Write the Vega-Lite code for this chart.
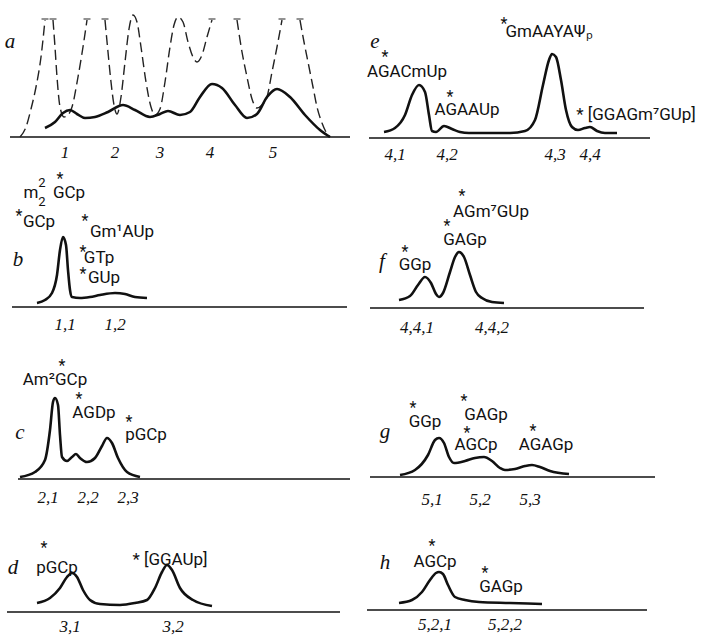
{
"$schema": "https://vega.github.io/schema/vega-lite/v6.json",
"padding": 0,
"background": "white",
"columns": 2,
"spacing": 0,
"bounds": "flush",
"config": {"view": {"stroke": null}, "text": {"font": "Roboto", "fontSize": 17, "align": "center", "baseline": "middle", "color": "#111"}},
"datasets": {"all": [
{"p":"a","k":"base","x":10,"x2":350,"y":0},
{"p":"a","k":"line","s":"a1","x":45,"y":9},{"p":"a","k":"line","s":"a1","x":55,"y":15},{"p":"a","k":"line","s":"a1","x":63,"y":24},{"p":"a","k":"line","s":"a1","x":70,"y":27},{"p":"a","k":"line","s":"a1","x":77,"y":23},{"p":"a","k":"line","s":"a1","x":85,"y":19},{"p":"a","k":"line","s":"a1","x":95,"y":20},{"p":"a","k":"line","s":"a1","x":108,"y":25},{"p":"a","k":"line","s":"a1","x":123,"y":32},{"p":"a","k":"line","s":"a1","x":135,"y":27},{"p":"a","k":"line","s":"a1","x":150,"y":20},{"p":"a","k":"line","s":"a1","x":160,"y":23},{"p":"a","k":"line","s":"a1","x":168,"y":26},{"p":"a","k":"line","s":"a1","x":180,"y":22},{"p":"a","k":"line","s":"a1","x":190,"y":25},{"p":"a","k":"line","s":"a1","x":200,"y":40},{"p":"a","k":"line","s":"a1","x":212,"y":53},{"p":"a","k":"line","s":"a1","x":222,"y":49},{"p":"a","k":"line","s":"a1","x":235,"y":32},{"p":"a","k":"line","s":"a1","x":247,"y":19},{"p":"a","k":"line","s":"a1","x":257,"y":23},{"p":"a","k":"line","s":"a1","x":267,"y":40},{"p":"a","k":"line","s":"a1","x":277,"y":48},{"p":"a","k":"line","s":"a1","x":290,"y":40},{"p":"a","k":"line","s":"a1","x":305,"y":22},{"p":"a","k":"line","s":"a1","x":320,"y":7},{"p":"a","k":"line","s":"a1","x":330,"y":0},
{"p":"a","k":"dash","s":"a2","x":20,"y":0},{"p":"a","k":"dash","s":"a2","x":26,"y":10},{"p":"a","k":"dash","s":"a2","x":31,"y":28},{"p":"a","k":"dash","s":"a2","x":36,"y":50},{"p":"a","k":"dash","s":"a2","x":41,"y":80},{"p":"a","k":"dash","s":"a2","x":45,"y":117},
{"p":"a","k":"dash","s":"a3","x":53,"y":117},{"p":"a","k":"dash","s":"a3","x":55,"y":90},{"p":"a","k":"dash","s":"a3","x":57,"y":60},{"p":"a","k":"dash","s":"a3","x":60,"y":30},{"p":"a","k":"dash","s":"a3","x":64,"y":20},{"p":"a","k":"dash","s":"a3","x":68,"y":22},{"p":"a","k":"dash","s":"a3","x":72,"y":30},{"p":"a","k":"dash","s":"a3","x":78,"y":60},{"p":"a","k":"dash","s":"a3","x":83,"y":90},{"p":"a","k":"dash","s":"a3","x":87,"y":117},
{"p":"a","k":"dash","s":"a4","x":105,"y":117},{"p":"a","k":"dash","s":"a4","x":108,"y":85},{"p":"a","k":"dash","s":"a4","x":111,"y":55},{"p":"a","k":"dash","s":"a4","x":114,"y":32},{"p":"a","k":"dash","s":"a4","x":117,"y":23},{"p":"a","k":"dash","s":"a4","x":121,"y":40},{"p":"a","k":"dash","s":"a4","x":125,"y":75},{"p":"a","k":"dash","s":"a4","x":129,"y":108},{"p":"a","k":"dash","s":"a4","x":133,"y":122},{"p":"a","k":"dash","s":"a4","x":137,"y":115},{"p":"a","k":"dash","s":"a4","x":141,"y":90},{"p":"a","k":"dash","s":"a4","x":146,"y":55},{"p":"a","k":"dash","s":"a4","x":151,"y":30},{"p":"a","k":"dash","s":"a4","x":155,"y":22},{"p":"a","k":"dash","s":"a4","x":160,"y":28},{"p":"a","k":"dash","s":"a4","x":165,"y":55},{"p":"a","k":"dash","s":"a4","x":170,"y":90},{"p":"a","k":"dash","s":"a4","x":174,"y":112},{"p":"a","k":"dash","s":"a4","x":178,"y":120},{"p":"a","k":"dash","s":"a4","x":183,"y":115},{"p":"a","k":"dash","s":"a4","x":188,"y":95},{"p":"a","k":"dash","s":"a4","x":193,"y":80},{"p":"a","k":"dash","s":"a4","x":197,"y":75},{"p":"a","k":"dash","s":"a4","x":202,"y":82},{"p":"a","k":"dash","s":"a4","x":207,"y":100},{"p":"a","k":"dash","s":"a4","x":212,"y":117},
{"p":"a","k":"dash","s":"a5","x":237,"y":117},{"p":"a","k":"dash","s":"a5","x":242,"y":85},{"p":"a","k":"dash","s":"a5","x":247,"y":60},{"p":"a","k":"dash","s":"a5","x":252,"y":38},{"p":"a","k":"dash","s":"a5","x":257,"y":29},{"p":"a","k":"dash","s":"a5","x":262,"y":32},{"p":"a","k":"dash","s":"a5","x":267,"y":40},{"p":"a","k":"dash","s":"a5","x":272,"y":65},{"p":"a","k":"dash","s":"a5","x":277,"y":90},{"p":"a","k":"dash","s":"a5","x":282,"y":117},
{"p":"a","k":"dash","s":"a6","x":300,"y":117},{"p":"a","k":"dash","s":"a6","x":304,"y":95},{"p":"a","k":"dash","s":"a6","x":308,"y":75},{"p":"a","k":"dash","s":"a6","x":313,"y":50},{"p":"a","k":"dash","s":"a6","x":317,"y":30},{"p":"a","k":"dash","s":"a6","x":322,"y":14},{"p":"a","k":"dash","s":"a6","x":326,"y":5},{"p":"a","k":"dash","s":"a6","x":330,"y":0},
{"p":"a","k":"top","x":45,"y":118},{"p":"a","k":"top","x":53,"y":118},{"p":"a","k":"top","x":87,"y":118},{"p":"a","k":"top","x":105,"y":118},{"p":"a","k":"top","x":212,"y":118},{"p":"a","k":"top","x":237,"y":118},{"p":"a","k":"top","x":282,"y":118},{"p":"a","k":"top","x":300,"y":118},
{"p":"a","k":"num","t":"1","x":65,"y":-16},{"p":"a","k":"num","t":"2","x":115,"y":-16},{"p":"a","k":"num","t":"3","x":160,"y":-16},{"p":"a","k":"num","t":"4","x":210,"y":-16},{"p":"a","k":"num","t":"5","x":273,"y":-16},
{"p":"a","k":"letter","t":"a","x":10,"y":95},

{"p":"e","k":"base","x":17,"x2":298,"y":-1},
{"p":"e","k":"line","s":"e1","x":32,"y":5},{"p":"e","k":"line","s":"e1","x":43,"y":9},{"p":"e","k":"line","s":"e1","x":53,"y":22},{"p":"e","k":"line","s":"e1","x":60,"y":42},{"p":"e","k":"line","s":"e1","x":67,"y":52},{"p":"e","k":"line","s":"e1","x":73,"y":45},{"p":"e","k":"line","s":"e1","x":77,"y":22},{"p":"e","k":"line","s":"e1","x":80,"y":6},{"p":"e","k":"line","s":"e1","x":84,"y":5},{"p":"e","k":"line","s":"e1","x":92,"y":11},{"p":"e","k":"line","s":"e1","x":100,"y":8},{"p":"e","k":"line","s":"e1","x":108,"y":5},{"p":"e","k":"line","s":"e1","x":117,"y":4},{"p":"e","k":"line","s":"e1","x":138,"y":4},{"p":"e","k":"line","s":"e1","x":158,"y":4},{"p":"e","k":"line","s":"e1","x":173,"y":6},{"p":"e","k":"line","s":"e1","x":183,"y":17},{"p":"e","k":"line","s":"e1","x":191,"y":52},{"p":"e","k":"line","s":"e1","x":197,"y":77},{"p":"e","k":"line","s":"e1","x":200,"y":83},{"p":"e","k":"line","s":"e1","x":204,"y":80},{"p":"e","k":"line","s":"e1","x":209,"y":57},{"p":"e","k":"line","s":"e1","x":214,"y":27},{"p":"e","k":"line","s":"e1","x":220,"y":10},{"p":"e","k":"line","s":"e1","x":226,"y":7},{"p":"e","k":"line","s":"e1","x":233,"y":9},{"p":"e","k":"line","s":"e1","x":238,"y":10},{"p":"e","k":"line","s":"e1","x":245,"y":6},{"p":"e","k":"line","s":"e1","x":253,"y":4},{"p":"e","k":"line","s":"e1","x":265,"y":4},
{"p":"e","k":"num","t":"4,1","x":43,"y":-18},{"p":"e","k":"num","t":"4,2","x":95,"y":-18},{"p":"e","k":"num","t":"4,3","x":203,"y":-18},{"p":"e","k":"num","t":"4,4","x":238,"y":-18},
{"p":"e","k":"letter","t":"e","x":23,"y":95},
{"p":"e","k":"chem","t":"AGACmUp","x":55,"y":65},{"p":"e","k":"star","t":"*","x":33,"y":80},
{"p":"e","k":"chem","t":"AGAAUp","x":115,"y":27},{"p":"e","k":"star","t":"*","x":98,"y":40},
{"p":"e","k":"chem","t":"GmAAYAΨₚ","x":197,"y":105},{"p":"e","k":"star","t":"*","x":152,"y":113},
{"p":"e","k":"chem","t":"* [GGAGm⁷GUp]","x":284,"y":22},

{"p":"b","k":"base","x":12,"x2":347,"y":0},
{"p":"b","k":"line","s":"b1","x":37,"y":4},{"p":"b","k":"line","s":"b1","x":45,"y":7},{"p":"b","k":"line","s":"b1","x":52,"y":14},{"p":"b","k":"line","s":"b1","x":57,"y":32},{"p":"b","k":"line","s":"b1","x":60,"y":57},{"p":"b","k":"line","s":"b1","x":63,"y":70},{"p":"b","k":"line","s":"b1","x":66,"y":62},{"p":"b","k":"line","s":"b1","x":68,"y":37},{"p":"b","k":"line","s":"b1","x":70,"y":17},{"p":"b","k":"line","s":"b1","x":72,"y":10},{"p":"b","k":"line","s":"b1","x":80,"y":9},{"p":"b","k":"line","s":"b1","x":90,"y":10},{"p":"b","k":"line","s":"b1","x":100,"y":12},{"p":"b","k":"line","s":"b1","x":115,"y":14},{"p":"b","k":"line","s":"b1","x":125,"y":13},{"p":"b","k":"line","s":"b1","x":135,"y":10},{"p":"b","k":"line","s":"b1","x":147,"y":9},
{"p":"b","k":"num","t":"1,1","x":65,"y":-18},{"p":"b","k":"num","t":"1,2","x":115,"y":-18},
{"p":"b","k":"letter","t":"b","x":18,"y":47},
{"p":"b","k":"chem","t":"m","x":31,"y":114},{"p":"b","k":"sup","t":"2","x":42,"y":124},{"p":"b","k":"sup","t":"2","x":42,"y":105},{"p":"b","k":"chem","t":"GCp","x":69,"y":114},{"p":"b","k":"star","t":"*","x":60,"y":128},
{"p":"b","k":"chem","t":"GCp","x":39,"y":85},{"p":"b","k":"star","t":"*","x":19,"y":91},
{"p":"b","k":"chem","t":"Gm¹AUp","x":122,"y":75},{"p":"b","k":"star","t":"*","x":85,"y":86},
{"p":"b","k":"chem","t":"GTp","x":99,"y":49},{"p":"b","k":"star","t":"*","x":83,"y":55},
{"p":"b","k":"chem","t":"GUp","x":104,"y":29},{"p":"b","k":"star","t":"*","x":83,"y":33},

{"p":"f","k":"base","x":18,"x2":292,"y":-1},
{"p":"f","k":"line","s":"f1","x":47,"y":7},{"p":"f","k":"line","s":"f1","x":58,"y":11},{"p":"f","k":"line","s":"f1","x":66,"y":22},{"p":"f","k":"line","s":"f1","x":73,"y":30},{"p":"f","k":"line","s":"f1","x":79,"y":24},{"p":"f","k":"line","s":"f1","x":84,"y":13},{"p":"f","k":"line","s":"f1","x":87,"y":10},{"p":"f","k":"line","s":"f1","x":91,"y":14},{"p":"f","k":"line","s":"f1","x":98,"y":35},{"p":"f","k":"line","s":"f1","x":103,"y":50},{"p":"f","k":"line","s":"f1","x":107,"y":55},{"p":"f","k":"line","s":"f1","x":112,"y":50},{"p":"f","k":"line","s":"f1","x":118,"y":32},{"p":"f","k":"line","s":"f1","x":124,"y":15},{"p":"f","k":"line","s":"f1","x":130,"y":9},{"p":"f","k":"line","s":"f1","x":140,"y":5},{"p":"f","k":"line","s":"f1","x":152,"y":4},
{"p":"f","k":"num","t":"4,4,1","x":65,"y":-21},{"p":"f","k":"num","t":"4,4,2","x":140,"y":-21},
{"p":"f","k":"letter","t":"f","x":30,"y":45},
{"p":"f","k":"chem","t":"GGp","x":63,"y":42},{"p":"f","k":"star","t":"*","x":53,"y":55},
{"p":"f","k":"chem","t":"GAGp","x":113,"y":67},{"p":"f","k":"star","t":"*","x":95,"y":81},
{"p":"f","k":"chem","t":"AGm⁷GUp","x":139,"y":95},{"p":"f","k":"star","t":"*","x":110,"y":111},

{"p":"c","k":"base","x":18,"x2":350,"y":-1},
{"p":"c","k":"line","s":"c1","x":20,"y":1},{"p":"c","k":"line","s":"c1","x":35,"y":6},{"p":"c","k":"line","s":"c1","x":45,"y":18},{"p":"c","k":"line","s":"c1","x":50,"y":48},{"p":"c","k":"line","s":"c1","x":53,"y":76},{"p":"c","k":"line","s":"c1","x":55,"y":80},{"p":"c","k":"line","s":"c1","x":58,"y":73},{"p":"c","k":"line","s":"c1","x":60,"y":43},{"p":"c","k":"line","s":"c1","x":62,"y":21},{"p":"c","k":"line","s":"c1","x":67,"y":17},{"p":"c","k":"line","s":"c1","x":72,"y":21},{"p":"c","k":"line","s":"c1","x":76,"y":24},{"p":"c","k":"line","s":"c1","x":80,"y":20},{"p":"c","k":"line","s":"c1","x":87,"y":16},{"p":"c","k":"line","s":"c1","x":95,"y":20},{"p":"c","k":"line","s":"c1","x":102,"y":32},{"p":"c","k":"line","s":"c1","x":107,"y":40},{"p":"c","k":"line","s":"c1","x":112,"y":35},{"p":"c","k":"line","s":"c1","x":118,"y":20},{"p":"c","k":"line","s":"c1","x":127,"y":6},{"p":"c","k":"line","s":"c1","x":140,"y":1},
{"p":"c","k":"num","t":"2,1","x":48,"y":-20},{"p":"c","k":"num","t":"2,2","x":88,"y":-20},{"p":"c","k":"num","t":"2,3","x":128,"y":-20},
{"p":"c","k":"letter","t":"c","x":20,"y":45},
{"p":"c","k":"chem","t":"Am²GCp","x":55,"y":98},{"p":"c","k":"star","t":"*","x":62,"y":112},
{"p":"c","k":"chem","t":"AGDp","x":94,"y":65},{"p":"c","k":"star","t":"*","x":79,"y":79},
{"p":"c","k":"chem","t":"pGCp","x":146,"y":43},{"p":"c","k":"star","t":"*","x":129,"y":56},

{"p":"g","k":"base","x":18,"x2":303,"y":1},
{"p":"g","k":"line","s":"g1","x":48,"y":3},{"p":"g","k":"line","s":"g1","x":63,"y":8},{"p":"g","k":"line","s":"g1","x":76,"y":23},{"p":"g","k":"line","s":"g1","x":83,"y":38},{"p":"g","k":"line","s":"g1","x":87,"y":40},{"p":"g","k":"line","s":"g1","x":92,"y":35},{"p":"g","k":"line","s":"g1","x":97,"y":21},{"p":"g","k":"line","s":"g1","x":102,"y":15},{"p":"g","k":"line","s":"g1","x":113,"y":17},{"p":"g","k":"line","s":"g1","x":123,"y":20},{"p":"g","k":"line","s":"g1","x":132,"y":21},{"p":"g","k":"line","s":"g1","x":140,"y":17},{"p":"g","k":"line","s":"g1","x":148,"y":10},{"p":"g","k":"line","s":"g1","x":153,"y":8},{"p":"g","k":"line","s":"g1","x":163,"y":9},{"p":"g","k":"line","s":"g1","x":173,"y":12},{"p":"g","k":"line","s":"g1","x":180,"y":13},{"p":"g","k":"line","s":"g1","x":188,"y":11},{"p":"g","k":"line","s":"g1","x":198,"y":7},{"p":"g","k":"line","s":"g1","x":217,"y":4},
{"p":"g","k":"num","t":"5,1","x":80,"y":-22},{"p":"g","k":"num","t":"5,2","x":128,"y":-22},{"p":"g","k":"num","t":"5,3","x":178,"y":-22},
{"p":"g","k":"letter","t":"g","x":33,"y":46},
{"p":"g","k":"chem","t":"GGp","x":73,"y":56},{"p":"g","k":"star","t":"*","x":61,"y":70},
{"p":"g","k":"chem","t":"GAGp","x":134,"y":63},{"p":"g","k":"star","t":"*","x":112,"y":77},
{"p":"g","k":"chem","t":"AGCp","x":124,"y":33},{"p":"g","k":"star","t":"*","x":115,"y":45},
{"p":"g","k":"chem","t":"AGAGp","x":194,"y":33},{"p":"g","k":"star","t":"*","x":181,"y":47},

{"p":"d","k":"base","x":7,"x2":340,"y":-1},
{"p":"d","k":"line","s":"d1","x":37,"y":8},{"p":"d","k":"line","s":"d1","x":50,"y":13},{"p":"d","k":"line","s":"d1","x":60,"y":23},{"p":"d","k":"line","s":"d1","x":67,"y":34},{"p":"d","k":"line","s":"d1","x":72,"y":38},{"p":"d","k":"line","s":"d1","x":77,"y":34},{"p":"d","k":"line","s":"d1","x":83,"y":21},{"p":"d","k":"line","s":"d1","x":90,"y":11},{"p":"d","k":"line","s":"d1","x":100,"y":7},{"p":"d","k":"line","s":"d1","x":120,"y":6},{"p":"d","k":"line","s":"d1","x":135,"y":8},{"p":"d","k":"line","s":"d1","x":147,"y":11},{"p":"d","k":"line","s":"d1","x":155,"y":23},{"p":"d","k":"line","s":"d1","x":162,"y":39},{"p":"d","k":"line","s":"d1","x":167,"y":46},{"p":"d","k":"line","s":"d1","x":172,"y":41},{"p":"d","k":"line","s":"d1","x":180,"y":23},{"p":"d","k":"line","s":"d1","x":193,"y":11},{"p":"d","k":"line","s":"d1","x":212,"y":5},
{"p":"d","k":"num","t":"3,1","x":70,"y":-16},{"p":"d","k":"num","t":"3,2","x":173,"y":-16},
{"p":"d","k":"letter","t":"d","x":13,"y":43},
{"p":"d","k":"chem","t":"pGCp","x":57,"y":43},{"p":"d","k":"star","t":"*","x":44,"y":63},
{"p":"d","k":"chem","t":"* [GGAUp]","x":170,"y":51},

{"p":"h","k":"base","x":15,"x2":295,"y":1},
{"p":"h","k":"line","s":"h1","x":47,"y":8},{"p":"h","k":"line","s":"h1","x":60,"y":11},{"p":"h","k":"line","s":"h1","x":70,"y":19},{"p":"h","k":"line","s":"h1","x":78,"y":31},{"p":"h","k":"line","s":"h1","x":84,"y":38},{"p":"h","k":"line","s":"h1","x":87,"y":39},{"p":"h","k":"line","s":"h1","x":91,"y":37},{"p":"h","k":"line","s":"h1","x":96,"y":26},{"p":"h","k":"line","s":"h1","x":103,"y":14},{"p":"h","k":"line","s":"h1","x":113,"y":11},{"p":"h","k":"line","s":"h1","x":127,"y":9},{"p":"h","k":"line","s":"h1","x":158,"y":8},{"p":"h","k":"line","s":"h1","x":190,"y":7},
{"p":"h","k":"num","t":"5,2,1","x":83,"y":-14},{"p":"h","k":"num","t":"5,2,2","x":153,"y":-14},
{"p":"h","k":"letter","t":"h","x":33,"y":48},
{"p":"h","k":"chem","t":"AGCp","x":83,"y":49},{"p":"h","k":"star","t":"*","x":80,"y":65},
{"p":"h","k":"chem","t":"GAGp","x":149,"y":24},{"p":"h","k":"star","t":"*","x":133,"y":38}
]},
"concat": [
{"width":352,"height":165,"data":{"name":"all"},"transform":[{"filter":"datum.p==='a'"}],
 "encoding":{"x":{"field":"x","type":"quantitative","scale":{"domain":[0,352],"nice":false,"zero":false},"axis":null},"y":{"field":"y","type":"quantitative","scale":{"domain":[-28,137],"nice":false,"zero":false},"axis":null}},
 "layer":[
  {"transform":[{"filter":"datum.k==='base'"}],"mark":{"type":"rule","color":"#111","strokeWidth":1.6},"encoding":{"x2":{"field":"x2"}}},
  {"transform":[{"filter":"datum.k==='dash'"}],"mark":{"type":"line","color":"#222","strokeWidth":1.4,"strokeDash":[10,5],"interpolate":"monotone"},"encoding":{"detail":{"field":"s"}}},
  {"transform":[{"filter":"datum.k==='top'"}],"mark":{"type":"tick","orient":"horizontal","size":7,"thickness":1.4,"color":"#222"}},
  {"transform":[{"filter":"datum.k==='line'"}],"mark":{"type":"line","color":"#111","strokeWidth":2.6,"interpolate":"monotone"},"encoding":{"detail":{"field":"s"}}},
  {"transform":[{"filter":"datum.k==='num'"}],"mark":{"type":"text","font":"Liberation Serif","fontStyle":"italic","fontSize":17},"encoding":{"text":{"field":"t"}}},
  {"transform":[{"filter":"datum.k==='letter'"}],"mark":{"type":"text","font":"Liberation Serif","fontStyle":"italic","fontSize":21},"encoding":{"text":{"field":"t"}}}
 ]},
{"width":352,"height":165,"data":{"name":"all"},"transform":[{"filter":"datum.p==='e'"}],
 "encoding":{"x":{"field":"x","type":"quantitative","scale":{"domain":[0,352],"nice":false,"zero":false},"axis":null},"y":{"field":"y","type":"quantitative","scale":{"domain":[-28,137],"nice":false,"zero":false},"axis":null}},
 "layer":[
  {"transform":[{"filter":"datum.k==='base'"}],"mark":{"type":"rule","color":"#111","strokeWidth":1.6},"encoding":{"x2":{"field":"x2"}}},
  {"transform":[{"filter":"datum.k==='line'"}],"mark":{"type":"line","color":"#111","strokeWidth":2.6,"interpolate":"monotone"},"encoding":{"detail":{"field":"s"}}},
  {"transform":[{"filter":"datum.k==='chem'"}],"mark":{"type":"text"},"encoding":{"text":{"field":"t"}}},
  {"transform":[{"filter":"datum.k==='star'"}],"mark":{"type":"text","fontSize":16},"encoding":{"text":{"field":"t"}}},
  {"transform":[{"filter":"datum.k==='num'"}],"mark":{"type":"text","font":"Liberation Serif","fontStyle":"italic","fontSize":17},"encoding":{"text":{"field":"t"}}},
  {"transform":[{"filter":"datum.k==='letter'"}],"mark":{"type":"text","font":"Liberation Serif","fontStyle":"italic","fontSize":21},"encoding":{"text":{"field":"t"}}}
 ]},
{"width":352,"height":175,"data":{"name":"all"},"transform":[{"filter":"datum.p==='b'"}],
 "encoding":{"x":{"field":"x","type":"quantitative","scale":{"domain":[0,352],"nice":false,"zero":false},"axis":null},"y":{"field":"y","type":"quantitative","scale":{"domain":[-33,142],"nice":false,"zero":false},"axis":null}},
 "layer":[
  {"transform":[{"filter":"datum.k==='base'"}],"mark":{"type":"rule","color":"#111","strokeWidth":1.6},"encoding":{"x2":{"field":"x2"}}},
  {"transform":[{"filter":"datum.k==='line'"}],"mark":{"type":"line","color":"#111","strokeWidth":2.6,"interpolate":"monotone"},"encoding":{"detail":{"field":"s"}}},
  {"transform":[{"filter":"datum.k==='chem'"}],"mark":{"type":"text"},"encoding":{"text":{"field":"t"}}},
  {"transform":[{"filter":"datum.k==='sup'"}],"mark":{"type":"text","fontSize":13},"encoding":{"text":{"field":"t"}}},
  {"transform":[{"filter":"datum.k==='star'"}],"mark":{"type":"text","fontSize":16},"encoding":{"text":{"field":"t"}}},
  {"transform":[{"filter":"datum.k==='num'"}],"mark":{"type":"text","font":"Liberation Serif","fontStyle":"italic","fontSize":17},"encoding":{"text":{"field":"t"}}},
  {"transform":[{"filter":"datum.k==='letter'"}],"mark":{"type":"text","font":"Liberation Serif","fontStyle":"italic","fontSize":21},"encoding":{"text":{"field":"t"}}}
 ]},
{"width":352,"height":175,"data":{"name":"all"},"transform":[{"filter":"datum.p==='f'"}],
 "encoding":{"x":{"field":"x","type":"quantitative","scale":{"domain":[0,352],"nice":false,"zero":false},"axis":null},"y":{"field":"y","type":"quantitative","scale":{"domain":[-33,142],"nice":false,"zero":false},"axis":null}},
 "layer":[
  {"transform":[{"filter":"datum.k==='base'"}],"mark":{"type":"rule","color":"#111","strokeWidth":1.6},"encoding":{"x2":{"field":"x2"}}},
  {"transform":[{"filter":"datum.k==='line'"}],"mark":{"type":"line","color":"#111","strokeWidth":2.6,"interpolate":"monotone"},"encoding":{"detail":{"field":"s"}}},
  {"transform":[{"filter":"datum.k==='chem'"}],"mark":{"type":"text"},"encoding":{"text":{"field":"t"}}},
  {"transform":[{"filter":"datum.k==='star'"}],"mark":{"type":"text","fontSize":16},"encoding":{"text":{"field":"t"}}},
  {"transform":[{"filter":"datum.k==='num'"}],"mark":{"type":"text","font":"Liberation Serif","fontStyle":"italic","fontSize":17},"encoding":{"text":{"field":"t"}}},
  {"transform":[{"filter":"datum.k==='letter'"}],"mark":{"type":"text","font":"Liberation Serif","fontStyle":"italic","fontSize":21},"encoding":{"text":{"field":"t"}}}
 ]},
{"width":352,"height":165,"data":{"name":"all"},"transform":[{"filter":"datum.p==='c'"}],
 "encoding":{"x":{"field":"x","type":"quantitative","scale":{"domain":[0,352],"nice":false,"zero":false},"axis":null},"y":{"field":"y","type":"quantitative","scale":{"domain":[-27,138],"nice":false,"zero":false},"axis":null}},
 "layer":[
  {"transform":[{"filter":"datum.k==='base'"}],"mark":{"type":"rule","color":"#111","strokeWidth":1.6},"encoding":{"x2":{"field":"x2"}}},
  {"transform":[{"filter":"datum.k==='line'"}],"mark":{"type":"line","color":"#111","strokeWidth":2.6,"interpolate":"monotone"},"encoding":{"detail":{"field":"s"}}},
  {"transform":[{"filter":"datum.k==='chem'"}],"mark":{"type":"text"},"encoding":{"text":{"field":"t"}}},
  {"transform":[{"filter":"datum.k==='star'"}],"mark":{"type":"text","fontSize":16},"encoding":{"text":{"field":"t"}}},
  {"transform":[{"filter":"datum.k==='num'"}],"mark":{"type":"text","font":"Liberation Serif","fontStyle":"italic","fontSize":17},"encoding":{"text":{"field":"t"}}},
  {"transform":[{"filter":"datum.k==='letter'"}],"mark":{"type":"text","font":"Liberation Serif","fontStyle":"italic","fontSize":21},"encoding":{"text":{"field":"t"}}}
 ]},
{"width":352,"height":165,"data":{"name":"all"},"transform":[{"filter":"datum.p==='g'"}],
 "encoding":{"x":{"field":"x","type":"quantitative","scale":{"domain":[0,352],"nice":false,"zero":false},"axis":null},"y":{"field":"y","type":"quantitative","scale":{"domain":[-27,138],"nice":false,"zero":false},"axis":null}},
 "layer":[
  {"transform":[{"filter":"datum.k==='base'"}],"mark":{"type":"rule","color":"#111","strokeWidth":1.6},"encoding":{"x2":{"field":"x2"}}},
  {"transform":[{"filter":"datum.k==='line'"}],"mark":{"type":"line","color":"#111","strokeWidth":2.6,"interpolate":"monotone"},"encoding":{"detail":{"field":"s"}}},
  {"transform":[{"filter":"datum.k==='chem'"}],"mark":{"type":"text"},"encoding":{"text":{"field":"t"}}},
  {"transform":[{"filter":"datum.k==='star'"}],"mark":{"type":"text","fontSize":16},"encoding":{"text":{"field":"t"}}},
  {"transform":[{"filter":"datum.k==='num'"}],"mark":{"type":"text","font":"Liberation Serif","fontStyle":"italic","fontSize":17},"encoding":{"text":{"field":"t"}}},
  {"transform":[{"filter":"datum.k==='letter'"}],"mark":{"type":"text","font":"Liberation Serif","fontStyle":"italic","fontSize":21},"encoding":{"text":{"field":"t"}}}
 ]},
{"width":352,"height":130,"data":{"name":"all"},"transform":[{"filter":"datum.p==='d'"}],
 "encoding":{"x":{"field":"x","type":"quantitative","scale":{"domain":[0,352],"nice":false,"zero":false},"axis":null},"y":{"field":"y","type":"quantitative","scale":{"domain":[-24,106],"nice":false,"zero":false},"axis":null}},
 "layer":[
  {"transform":[{"filter":"datum.k==='base'"}],"mark":{"type":"rule","color":"#111","strokeWidth":1.6},"encoding":{"x2":{"field":"x2"}}},
  {"transform":[{"filter":"datum.k==='line'"}],"mark":{"type":"line","color":"#111","strokeWidth":2.6,"interpolate":"monotone"},"encoding":{"detail":{"field":"s"}}},
  {"transform":[{"filter":"datum.k==='chem'"}],"mark":{"type":"text"},"encoding":{"text":{"field":"t"}}},
  {"transform":[{"filter":"datum.k==='star'"}],"mark":{"type":"text","fontSize":16},"encoding":{"text":{"field":"t"}}},
  {"transform":[{"filter":"datum.k==='num'"}],"mark":{"type":"text","font":"Liberation Serif","fontStyle":"italic","fontSize":17},"encoding":{"text":{"field":"t"}}},
  {"transform":[{"filter":"datum.k==='letter'"}],"mark":{"type":"text","font":"Liberation Serif","fontStyle":"italic","fontSize":21},"encoding":{"text":{"field":"t"}}}
 ]},
{"width":352,"height":130,"data":{"name":"all"},"transform":[{"filter":"datum.p==='h'"}],
 "encoding":{"x":{"field":"x","type":"quantitative","scale":{"domain":[0,352],"nice":false,"zero":false},"axis":null},"y":{"field":"y","type":"quantitative","scale":{"domain":[-24,106],"nice":false,"zero":false},"axis":null}},
 "layer":[
  {"transform":[{"filter":"datum.k==='base'"}],"mark":{"type":"rule","color":"#111","strokeWidth":1.6},"encoding":{"x2":{"field":"x2"}}},
  {"transform":[{"filter":"datum.k==='line'"}],"mark":{"type":"line","color":"#111","strokeWidth":2.6,"interpolate":"monotone"},"encoding":{"detail":{"field":"s"}}},
  {"transform":[{"filter":"datum.k==='chem'"}],"mark":{"type":"text"},"encoding":{"text":{"field":"t"}}},
  {"transform":[{"filter":"datum.k==='star'"}],"mark":{"type":"text","fontSize":16},"encoding":{"text":{"field":"t"}}},
  {"transform":[{"filter":"datum.k==='num'"}],"mark":{"type":"text","font":"Liberation Serif","fontStyle":"italic","fontSize":17},"encoding":{"text":{"field":"t"}}},
  {"transform":[{"filter":"datum.k==='letter'"}],"mark":{"type":"text","font":"Liberation Serif","fontStyle":"italic","fontSize":21},"encoding":{"text":{"field":"t"}}}
 ]}
]
}
